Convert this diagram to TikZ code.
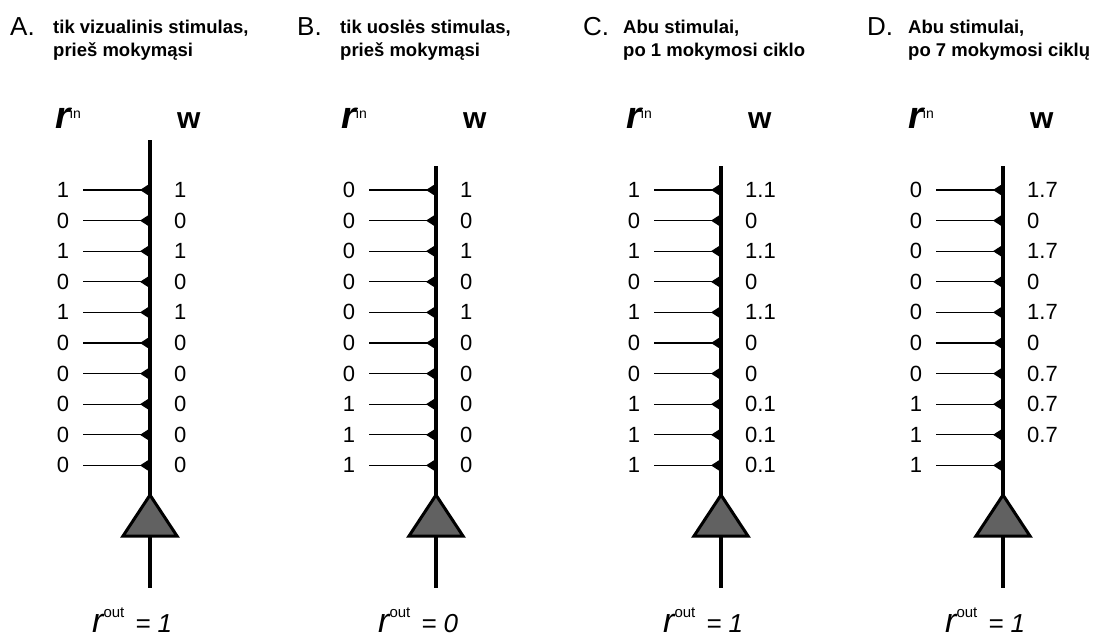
\documentclass[tikz,border=0pt]{standalone}
\usepackage{fontspec}
\setmainfont{Liberation Sans}
\usetikzlibrary{arrows.meta}
\begin{document}
\begin{tikzpicture}[x=1pt,y=-1pt,
  hletter/.style={anchor=base west,inner sep=0pt,font=\fontsize{26}{26}\selectfont},
  htext/.style={anchor=base west,inner sep=0pt,font=\bfseries\fontsize{18.5}{20}\selectfont},
  digit/.style={inner xsep=14pt,inner ysep=0pt,font=\fontsize{22}{22}\selectfont},
  wval/.style={anchor=west,inner sep=0pt,font=\fontsize{22}{22}\selectfont},
  syn/.style={line width=1.2pt,-{Triangle[reversed,length=8pt,width=10pt]}},
  axon/.style={line width=4pt},
  soma/.style={fill=black!62,draw=black,line width=3pt,line join=miter},
  lab/.style={anchor=base west,inner sep=0pt},
]
\useasboundingbox (0,0) rectangle (1098,637);

% headers
\node[hletter] (hA) at (10,35) {A.};
\node[htext] (hA1) at (53,34) {tik vizualinis stimulas,};
\node[htext] (hA2) at (53,56) {prieš mokymąsi};
\node[hletter] (hB) at (297,35) {B.};
\node[htext] (hB1) at (340,34) {tik uoslės stimulas,};
\node[htext] (hB2) at (340,56) {prieš mokymąsi};
\node[hletter] (hC) at (583,35) {C.};
\node[htext] (hC1) at (623,34) {Abu stimulai,};
\node[htext] (hC2) at (623,56) {po 1 mokymosi ciklo};
\node[hletter] (hD) at (867,35) {D.};
\node[htext] (hD1) at (908,34) {Abu stimulai,};
\node[htext] (hD2) at (908,56) {po 7 mokymosi ciklų};

\foreach \p/\ax/\tp/\rins/\ws/\ro in {
  A/150/140/{1,0,1,0,1,0,0,0,0,0}/{1,0,1,0,1,0,0,0,0,0}/1,
  B/436/166/{0,0,0,0,0,0,0,1,1,1}/{1,0,1,0,1,0,0,0,0,0}/0,
  C/721/166/{1,0,1,0,1,0,0,1,1,1}/{1.1,0,1.1,0,1.1,0,0,0.1,0.1,0.1}/1,
  D/1003/166/{0,0,0,0,0,0,0,1,1,1}/{1.7,0,1.7,0,1.7,0,0.7,0.7,0.7}/1}{
  % column labels
  \node[lab] (ri\p) at (\ax-95,128) {\fontsize{38}{38}\selectfont\bfseries\itshape r\raisebox{10pt}{\fontsize{14}{14}\selectfont\upshape\mdseries in}};
  \node[lab] (wl\p) at (\ax+27,128) {\fontsize{30}{30}\selectfont\bfseries w};
  % axon and soma
  \coordinate (top\p) at (\ax,\tp);
  \coordinate (bot\p) at (\ax,588);
  \draw[axon] (top\p) -- (bot\p);
  \coordinate (apex\p) at (\ax,495);
  \coordinate (bl\p) at (\ax-27,536);
  \coordinate (br\p) at (\ax+27,536);
  \draw[soma] (apex\p) -- (bl\p) -- (br\p) -- cycle;
  % inputs
  \foreach \v [count=\k] in \rins {
    \node[digit] (in\p\k) at (\ax-87,{190+30.6*(\k-1)}) {\v};
    \coordinate (s\p\k) at (\ax-2,{190+30.6*(\k-1)});
    \draw[syn] (in\p\k) -- (s\p\k);
  }
  \foreach \v [count=\k] in \ws {
    \node[wval] (w\p\k) at (\ax+24,{190+30.6*(\k-1)}) {\v};
  }
  % output
  \node[lab] (out\p) at (\ax-58,632) {\fontsize{34}{34}\selectfont\itshape r\raisebox{15pt}{\fontsize{15}{15}\selectfont\upshape out}\hspace{11pt}\fontsize{26}{26}\selectfont\itshape =\hspace{7pt}\ro};
}
\end{tikzpicture}
\end{document}
